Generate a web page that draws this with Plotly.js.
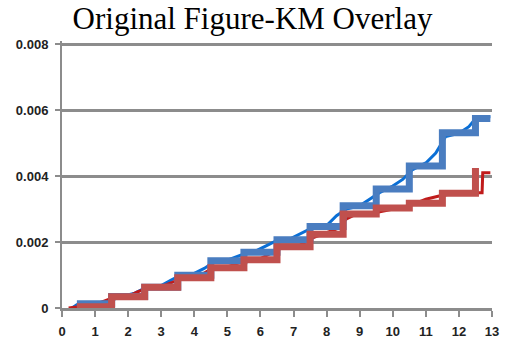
<!DOCTYPE html>
<html>
<head>
<meta charset="utf-8">
<script src="https://cdn.plot.ly/plotly-3.0.1.min.js"></script>
<style>html,body{margin:0;padding:0;background:#fff;}#chart{width:505px;height:346px;}</style>
</head>
<body>
<div id="chart"></div>
<script>
// Thick step lines (KM reconstruction)
const kmBlueX = [0.45, 1.5, 2.5, 3.5, 4.5, 5.5, 6.5, 7.5, 8.5, 9.5, 10.5, 11.5, 12.5, 12.95];
const kmBlueY = [0.00013, 0.00035, 0.00063, 0.00099, 0.00143, 0.00169, 0.00207, 0.00247, 0.0031, 0.00361, 0.00431, 0.00532, 0.00575, 0.00575];
const kmRedX = [0.45, 1.5, 2.5, 3.5, 4.5, 5.5, 6.5, 7.5, 8.5, 9.5, 10.5, 11.5, 12.5];
const kmRedY = [0.00004, 0.00034, 0.00063, 0.00092, 0.00122, 0.00146, 0.00186, 0.00224, 0.00285, 0.00303, 0.00318, 0.00348, 0.00425];
// Thin lines (original figure curves)
const origBlueX = [0.3, 0.45, 1.0, 1.4, 1.8, 2.2, 2.5, 3.0, 3.3, 3.6, 4.0, 4.3, 4.6, 5.0, 5.4, 5.8, 6.2, 6.5, 6.9, 7.3, 7.6, 8.0, 8.3, 8.6, 9.0, 9.3, 9.6, 10.0, 10.3, 10.6, 11.0, 11.3, 11.6, 12.0, 12.3, 12.55, 12.95];
const origBlueY = [0.0, 0.0001, 0.00015, 0.0002, 0.00035, 0.00045, 0.0006, 0.00068, 0.00085, 0.001, 0.00105, 0.0012, 0.0014, 0.00145, 0.0016, 0.0017, 0.0019, 0.00205, 0.0021, 0.0023, 0.00245, 0.0025, 0.0028, 0.003, 0.0031, 0.0033, 0.0035, 0.0037, 0.0039, 0.0042, 0.0044, 0.0047, 0.0052, 0.0053, 0.0055, 0.0058, 0.0058];
const origRedX = [0.2, 0.5, 1.0, 1.5, 2.0, 2.3, 2.6, 3.0, 3.4, 3.7, 4.2, 4.5, 5.0, 5.5, 6.0, 6.4, 6.7, 7.2, 7.5, 7.9, 8.3, 8.6, 9.0, 9.5, 10.0, 10.5, 11.0, 11.4, 12.0, 12.7, 12.72, 12.95];
const origRedY = [0.0, 0.00003, 0.0001, 0.0003, 0.00035, 0.0005, 0.0006, 0.00065, 0.0008, 0.00092, 0.001, 0.00118, 0.00125, 0.00142, 0.0015, 0.0017, 0.00185, 0.0019, 0.0021, 0.00225, 0.0024, 0.0027, 0.0029, 0.0029, 0.003, 0.0031, 0.0033, 0.0034, 0.0035, 0.0035, 0.0041, 0.0041];
const xTicks = [0,1,2,3,4,5,6,7,8,9,10,11,12,13];
const yTicks = [0, 0.002, 0.004, 0.006, 0.008];
const yTickText = ['0', '0.002', '0.004', '0.006', '0.008'];

const traces = [
  {x: origBlueX, y: origBlueY, mode: 'lines', line: {color: '#0A6FD6', width: 3}},
  {x: origRedX, y: origRedY, mode: 'lines', line: {color: '#C01A1A', width: 3}},
  {x: kmBlueX, y: kmBlueY, mode: 'lines', line: {shape: 'hv', color: '#4A7DC0', width: 7}},
  {x: kmRedX, y: kmRedY, mode: 'lines', line: {shape: 'hv', color: '#C0504D', width: 7}}
];

const tickFont = {family: 'Liberation Sans, Arial, sans-serif', size: 13, color: '#222', weight: 'bold'};
const layout = {
  width: 505, height: 346,
  margin: {l: 62, r: 13, t: 41, b: 38},
  paper_bgcolor: '#fff', plot_bgcolor: '#fff',
  showlegend: false,
  title: {text: 'Original Figure-KM Overlay', font: {family: 'Liberation Serif, Times New Roman, serif', size: 31, color: '#000'}, x: 0.5, xanchor: 'center', y: 0.978, yanchor: 'top'},
  xaxis: {
    range: [0, 13], tickvals: xTicks, ticktext: xTicks.map(String),
    showgrid: false, zeroline: false,
    showline: true, linecolor: '#8c8c8c', linewidth: 3,
    ticks: 'outside', ticklen: 6, tickwidth: 2, tickcolor: '#8c8c8c',
    ticklabelstandoff: 3,
    tickfont: tickFont
  },
  yaxis: {
    range: [0, 0.0081], tickvals: yTicks, ticktext: yTickText,
    showgrid: true, gridcolor: '#8c8c8c', gridwidth: 3, zeroline: false,
    showline: true, linecolor: '#8c8c8c', linewidth: 2,
    ticks: 'outside', ticklen: 5, tickwidth: 2, tickcolor: '#8c8c8c',
    ticklabelstandoff: 4,
    tickfont: tickFont
  }
};
Plotly.newPlot('chart', traces, layout, {displayModeBar: false, staticPlot: true});
</script>
</body>
</html>
